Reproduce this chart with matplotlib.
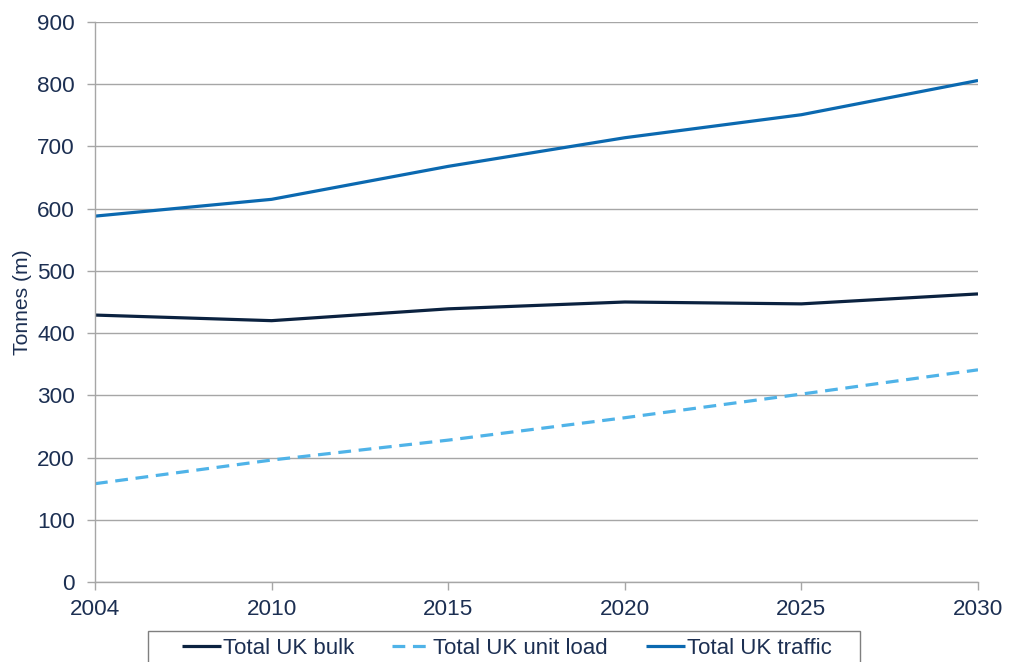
import matplotlib
matplotlib.use("Agg")
import matplotlib.pyplot as plt
from matplotlib.patches import Rectangle

years = ["2004", "2010", "2015", "2020", "2025", "2030"]
bulk = [429, 420, 439, 450, 447, 463]
unit_load = [158, 196, 228, 264, 302, 341]
traffic = [588, 615, 668, 714, 751, 806]
yticks = [0, 100, 200, 300, 400, 500, 600, 700, 800, 900]

text_color = "#1c2f52"
grid_color = "#a6a6a6"

plt.rcParams["font.family"] = ["Liberation Sans", "DejaVu Sans"]

fig = plt.figure(figsize=(10.16, 6.62), dpi=100)
ax = fig.add_axes([95/1016, 1-582/662, (978-95)/1016, (582-22)/662])

x = list(range(len(years)))
ax.plot(x, bulk, color="#0b2240", lw=2.3, label="Total UK bulk", solid_capstyle="butt")
ax.plot(x, unit_load, color="#4fb3e8", lw=2.3, ls=(0, (4, 2.4)), label="Total UK unit load")
ax.plot(x, traffic, color="#0b69b0", lw=2.3, label="Total UK traffic", solid_capstyle="butt")

ax.set_xlim(0, len(years)-1)
ax.set_ylim(0, 900)
ax.set_xticks(x)
ax.set_xticklabels(years)
ax.set_yticks(yticks)
ax.grid(axis="y", color=grid_color, lw=1)
ax.set_axisbelow(True)
for s in ["top", "right"]:
    ax.spines[s].set_visible(False)
for s in ["left", "bottom"]:
    ax.spines[s].set_color(grid_color)
    ax.spines[s].set_linewidth(1)
ax.tick_params(axis="both", colors=grid_color, labelcolor=text_color, labelsize=16.2,
               direction="out", length=5.5, width=1)
ax.tick_params(axis="y", pad=9)
ax.tick_params(axis="x", pad=6.5)
ax.set_ylabel("Tonnes (m)", color=text_color, fontsize=15.2, labelpad=3.5)

# legend frame
fig.patches.append(Rectangle((148/1016, -0.05), (860-148)/1016, (662-631)/662 + 0.05,
                             transform=fig.transFigure, fill=False,
                             edgecolor="#7f7f7f", lw=1, figure=fig))

leg = fig.legend(loc="center", bbox_to_anchor=(507/1016, 1-648/662),
                 ncol=3, frameon=False,
                 prop={"size": 16},
                 handlelength=1.75, handletextpad=0.1, columnspacing=1.7, borderpad=0,
                 borderaxespad=0)
for t in leg.get_texts():
    t.set_color(text_color)

fig.savefig("out.png", dpi=100)
